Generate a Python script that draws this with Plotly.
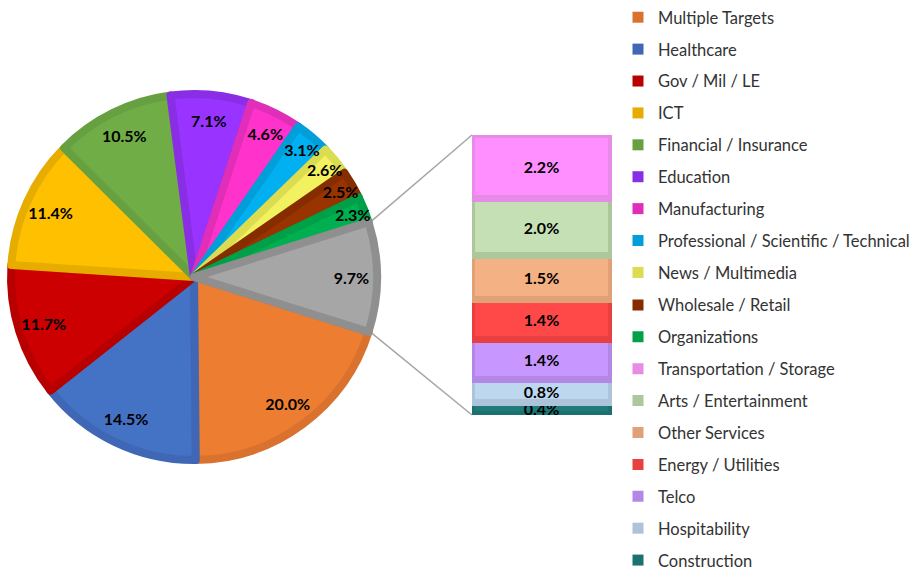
import math
import plotly.graph_objects as go

# ---------------- data ----------------
main_labels = ["Multiple Targets", "Healthcare", "Gov / Mil / LE", "ICT",
               "Financial / Insurance", "Education", "Manufacturing",
               "Professional / Scientific / Technical", "News / Multimedia",
               "Wholesale / Retail", "Organizations"]
main_values = [20.0, 14.5, 11.7, 11.4, 10.5, 7.1, 4.6, 3.1, 2.6, 2.5, 2.3]

bar_labels = ["Transportation / Storage", "Arts / Entertainment", "Other Services",
              "Energy / Utilities", "Telco", "Hospitability", "Construction"]
bar_values = [2.2, 2.0, 1.5, 1.4, 1.4, 0.8, 0.4]

other_label = "Other"

# ---------------- styles ----------------
main_fill = ["#ED7D31", "#4472C4", "#CC0000", "#FFC000", "#70AD47", "#9933FF",
             "#FF33CC", "#00B0F0", "#F2F260", "#993300", "#00B050"]
main_edge = ["#D9722E", "#3F67B5", "#B80000", "#E6AC00", "#66A040", "#8A2EE6",
             "#E02EB8", "#009FD9", "#DCDC50", "#862D00", "#00A048"]
other_fill, other_edge = "#A6A6A6", "#8F8F8F"
bar_fill = ["#FF8FFF", "#C5E0B4", "#F4B183", "#FF4848", "#C896FF", "#BDD7EE", "#1F7A7A"]
bar_edge = ["#E68CE6", "#ADC69C", "#E0A078", "#E84040", "#B387E6", "#ADC3DA", "#1D7070"]

W, H = 924, 568
cx, cy, R = 194, 277, 183          # pie centre / radius in px
bx0, bx1, by0, by1 = 472, 612, 135, 415   # bar box in px

FONT = "Lato, 'Open Sans', sans-serif"
LABEL_SIZE = 16

pie_labels = main_labels + [other_label]
other_value = sum(bar_values)
pie_values = main_values + [other_value]
total = sum(pie_values)
rotation = (90 - (total - other_value / 2) / total * 360) % 360

pie_domain = dict(x=[(cx - R) / W, (cx + R) / W], y=[1 - (cy + R) / H, 1 - (cy - R) / H])

fig = go.Figure()

# main pie (coloured slices)
fig.add_trace(go.Pie(
    labels=pie_labels, values=pie_values, sort=False, direction="clockwise",
    rotation=rotation, domain=pie_domain, textinfo="none", showlegend=False,
    marker=dict(colors=main_fill + [other_fill],
                line=dict(color=main_edge + [other_edge], width=8)),
    hoverinfo="label+value",
))
# transparent ring carrying the value labels
fig.add_trace(go.Pie(
    labels=pie_labels, values=pie_values, sort=False, direction="clockwise",
    rotation=rotation, domain=pie_domain, hole=0.72, showlegend=False,
    marker=dict(colors=["rgba(0,0,0,0)"] * len(pie_values), line=dict(width=0)),
    texttemplate="%{value:.1f}%", textposition="inside",
    insidetextorientation="horizontal",
    insidetextfont=dict(family=FONT, size=LABEL_SIZE, color="black", weight="bold"),
    hoverinfo="skip",
))

# bar of the "Other" slice, stacked bottom-up
for lab, val, fc, ec in reversed(list(zip(bar_labels, bar_values, bar_fill, bar_edge))):
    fig.add_trace(go.Bar(
        x=[other_label], y=[val], name=lab, showlegend=False,
        marker=dict(color=fc, line=dict(color=ec, width=7)),
        texttemplate="%{y:.1f}%", textposition="inside", insidetextanchor="middle",
        textfont=dict(family=FONT, size=LABEL_SIZE, color="black", weight="bold"),
        constraintext="none", cliponaxis=False,
    ))

# legend entries (split over two legends so all fit)
legend_labels = main_labels + bar_labels
legend_colors = main_edge + bar_edge
for i, (lab, ec) in enumerate(zip(legend_labels, legend_colors)):
    fig.add_trace(go.Scatter(
        x=[None], y=[None], mode="markers", name=lab, legendgroup=f"g{i}",
        legend="legend" if i < 9 else "legend2",
        marker=dict(symbol="square", size=11, color=ec),
        showlegend=True,
    ))

# connector lines from the "Other" slice edges to the bar corners
Rl = R + 3
a1 = math.radians(90 - other_value / total * 180)
a2 = math.radians(90 + other_value / total * 180)
p1 = (cx + Rl * math.sin(a1), cy - Rl * math.cos(a1))
p2 = (cx + Rl * math.sin(a2), cy - Rl * math.cos(a2))
for (px, py), (qx, qy) in [(p1, (bx0, by0)), (p2, (bx0, by1))]:
    fig.add_shape(type="line", xref="paper", yref="paper",
                  x0=px / W, y0=1 - py / H, x1=qx / W, y1=1 - qy / H,
                  line=dict(color="#A6A6A6", width=1.5), layer="below")

item_step = 31.85
leg_common = dict(x=618 / W, xanchor="left", yanchor="top",
                  font=dict(family=FONT, size=16.5, color="#333333"),
                  tracegroupgap=item_step - 24.4, bgcolor="rgba(0,0,0,0)")

fig.update_layout(
    width=W, height=H, margin=dict(l=0, r=0, t=0, b=0, autoexpand=False),
    paper_bgcolor="white", plot_bgcolor="white",
    barmode="stack", bargap=0,
    xaxis=dict(domain=[bx0 / W, bx1 / W], visible=False, fixedrange=True),
    yaxis=dict(domain=[1 - by1 / H, 1 - by0 / H], range=[0, other_value],
               visible=False, fixedrange=True),
    uniformtext=dict(minsize=LABEL_SIZE, mode="show"),
    font=dict(family=FONT),
    legend=dict(y=1.0, **leg_common),
    legend2=dict(y=1.0 - (9 * item_step + 1) / H, **leg_common),
    showlegend=True,
)

fig.write_html("out.html", config={"displayModeBar": False},
               post_script="document.body.style.margin='0';")
